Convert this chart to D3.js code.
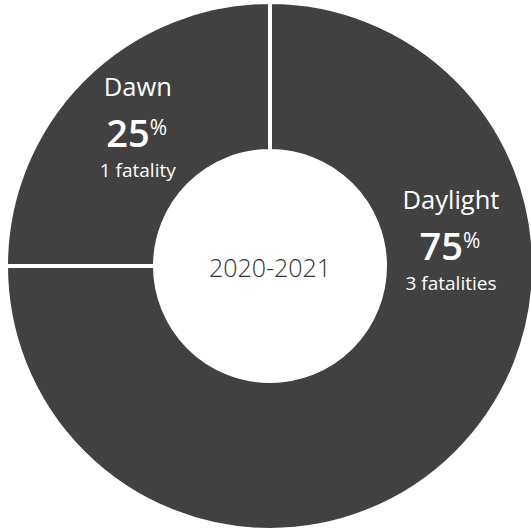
<!DOCTYPE html>
<html>
<head>
<meta charset="utf-8">
<script src="https://cdn.jsdelivr.net/npm/d3@7"></script>
<style>
html,body{margin:0;padding:0;background:#fff;}
svg{display:block;font-family:"Open Sans",sans-serif;}
</style>
</head>
<body>
<svg id="chart" width="531" height="531"></svg>
<script>
const categories = ["Dawn", "Daylight"];
const percents = [25, 75];
const fatalities = ["1 fatality", "3 fatalities"];
const centerLabel = "2020-2021";

const svg = d3.select("#chart");
const cx = 270, cy = 266;
const outerR = 264, innerR = 115;
const g = svg.append("g").attr("transform", `translate(${cx},${cy})`);

const data = categories.map((c, i) => ({ name: c, value: percents[i], fat: fatalities[i] }));

const pie = d3.pie().value(d => d.value).sort(null)
  .startAngle(-Math.PI / 2).endAngle(3 * Math.PI / 2);
const arc = d3.arc().innerRadius(innerR).outerRadius(outerR);
const arcs = pie(data);

g.selectAll("path.slice").data(arcs).join("path")
  .attr("class", "slice")
  .attr("d", arc)
  .attr("fill", "#414141")
  .attr("stroke", "#fff")
  .attr("stroke-width", 4)
  .attr("stroke-linejoin", "miter");

function labelPos(d, i) {
  // Dawn: slice centroid; Daylight: placed at the right side of the ring
  const a = i === 0 ? (d.startAngle + d.endAngle) / 2 : 84 * Math.PI / 180;
  const r = i === 0 ? 187 : 182;
  return [r * Math.sin(a), -r * Math.cos(a)];
}

const lab = g.selectAll("g.lab").data(arcs).join("g")
  .attr("class", "lab")
  .attr("transform", (d, i) => { const p = labelPos(d, i); return `translate(${p[0]},${p[1]})`; })
  .attr("fill", "#fff")
  .attr("text-anchor", "middle");

lab.append("text")
  .attr("y", -38)
  .attr("font-size", 25.5)
  .text(d => d.data.name);

const pct = lab.append("text")
  .attr("y", 13)
  .attr("x", -1);
pct.append("tspan")
  .attr("font-size", 38)
  .attr("font-weight", 600)
  .text(d => d.data.value);
pct.append("tspan")
  .attr("font-size", 21)
  .attr("dy", -12)
  .text("%");

lab.append("text")
  .attr("y", 43)
  .attr("font-size", 19)
  .text(d => d.data.fat);

g.append("text")
  .attr("text-anchor", "middle")
  .attr("y", 11)
  .attr("font-size", 25)
  .attr("font-weight", 300)
  .attr("fill", "#333")
  .text(centerLabel);
</script>
</body>
</html>
